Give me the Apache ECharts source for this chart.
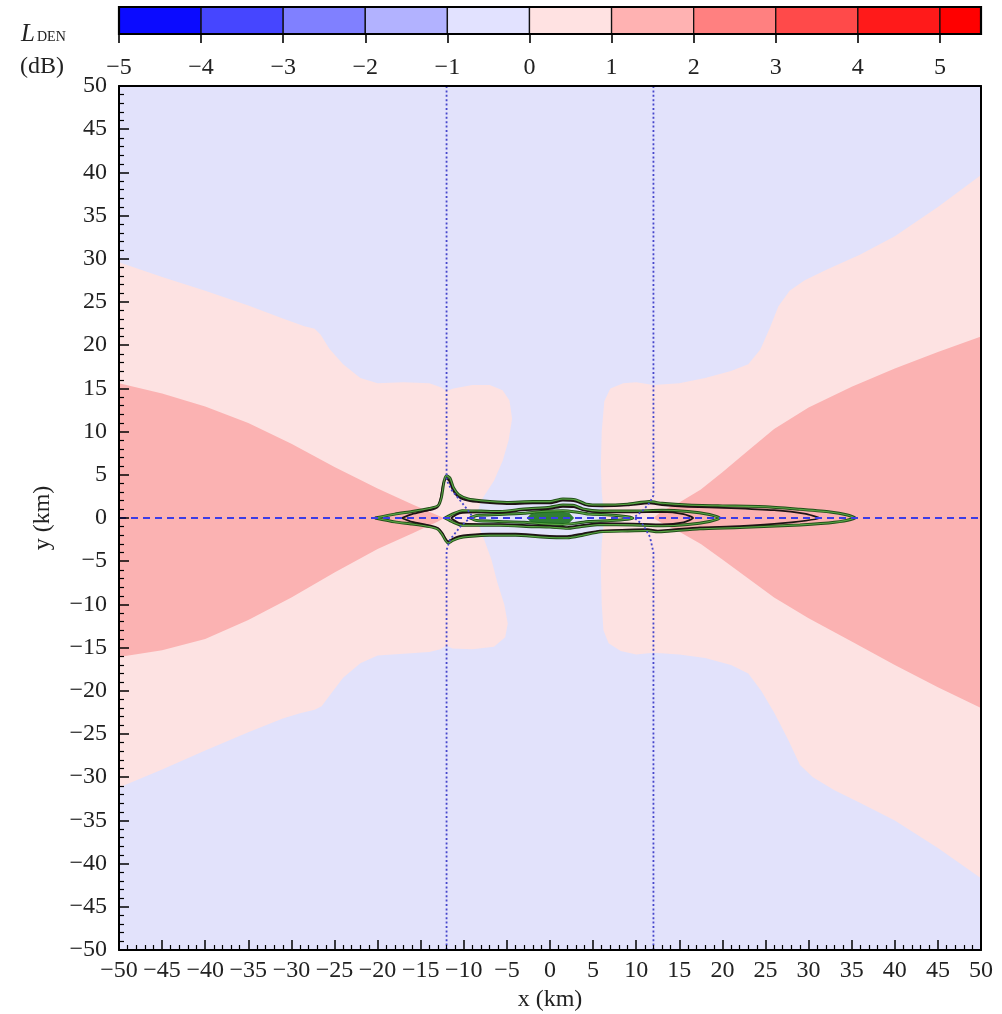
<!DOCTYPE html>
<html><head><meta charset="utf-8">
<script src="https://cdn.jsdelivr.net/npm/echarts@6/dist/echarts.min.js"></script>
<style>html,body{margin:0;padding:0;background:#fff}#c{width:1002px;height:1014px}</style>
</head><body><div id="c"></div>
<script>
// ---------- colour bar ----------
const cbLevels = [-5, -4, -3, -2, -1, 0, 1, 2, 3, 4, 5, 5.5];
const cbColors = ['#0b0bff', '#4646ff', '#8080ff', '#b2b2ff', '#e2e2ff', '#ffe2e2', '#ffb2b2', '#ff8080', '#ff4a4a', '#ff1a1a', '#ff0000'];
const cbTicks = [-5, -4, -3, -2, -1, 0, 1, 2, 3, 4, 5];

// ---------- axes ----------
const xRange = [-50, 50];
const yRange = [-50, 50];

// ---------- filled regions (x km, y km) ----------
const pinkLeft = [
  [-50, 29.6], [-45, 27.9], [-40, 26.3], [-35, 24.6], [-31, 23.1], [-28.5, 22.2], [-27.3, 21.9], [-26.6, 21.2],
  [-25.6, 19.6], [-24, 17.8], [-22, 16.2], [-20, 15.6], [-17, 15.7], [-14, 15.6], [-12.6, 15.1], [-12, 14.7],
  [-11.2, 15.0], [-9, 15.4], [-7, 15.4], [-5.5, 14.8], [-4.7, 13.6], [-4.4, 11.5], [-4.8, 9], [-5.5, 6.6],
  [-6.5, 4.3], [-8, 2.0], [-8.6, 0], [-7.6, -2.6], [-6.8, -4.8], [-6.1, -7.5], [-5.3, -10], [-4.9, -12.2],
  [-5.2, -13.8], [-6.5, -14.9], [-9, -15.2], [-11.3, -15.1], [-12, -14.8], [-12.7, -15.2], [-14, -15.5],
  [-17, -15.7], [-20, -15.9], [-22, -16.8], [-24, -18.5], [-25.3, -20.2], [-26.5, -21.8], [-27.3, -22.2],
  [-29, -22.6], [-31, -23.2], [-35, -24.8], [-40, -26.9], [-45, -29.1], [-50, -31.2]
];
const pinkRight = [
  [6.3, 0], [6.0, 3], [5.9, 6], [6.0, 10], [6.3, 13.5], [7.0, 15.0], [8.5, 15.6], [10, 15.7], [12, 15.4],
  [15, 15.6], [18, 16.2], [21, 17.0], [23, 17.8], [24.4, 19.5], [25.5, 22], [26.5, 24.5], [27.8, 26.3],
  [29.5, 27.5], [32, 28.7], [36, 30.5], [40, 32.6], [45, 36], [50, 39.7],
  [50, -41.7], [45, -38.2], [40, -35], [36, -33], [33, -31.5], [30.5, -30], [29, -28.6], [27.6, -25.6],
  [26, -22.5], [24.5, -20], [23, -18], [21, -17], [18, -16.2], [15, -15.8], [12, -15.6], [10, -15.8],
  [8.2, -15.4], [6.8, -14.5], [6.2, -13], [6.0, -10], [5.9, -6], [6.0, -3]
];
const redLeft = [
  [-50, 15.6], [-45, 14.4], [-40, 12.9], [-35, 11.0], [-30, 8.6], [-25, 5.9], [-20, 3.4], [-16, 1.6],
  [-13, 0.3], [-12.3, 0], [-13, -0.4], [-16, -1.8], [-20, -3.6], [-25, -6.3], [-30, -9.2], [-35, -11.8],
  [-40, -14.0], [-45, -15.3], [-50, -16.1]
];
const redRight = [
  [12, 0], [13, 0.8], [15, 1.8], [17.5, 3.3], [20, 5.3], [23, 7.8], [26, 10.3], [30, 12.8], [35, 15.2],
  [40, 17.3], [45, 19.2], [50, 21], [50, -22], [45, -19.6], [40, -17], [35, -14.3], [30, -11.6],
  [26, -9.2], [23, -7], [20, -4.8], [17.5, -3], [15, -1.6], [13, -0.6]
];
const centreBlob = [
  [-2.7, 0], [-2.2, 0.5], [-1, 0.7], [1, 0.75], [2.2, 0.65], [2.8, 0], [2.2, -0.6], [1, -0.7], [-1, -0.65], [-2.2, -0.5]
];

// ---------- contour lines (upper / lower branches, x ascending) ----------
const green1Up = [[-20.3,0],[-18,0.45],[-16,0.75],[-14,1.1],[-13,1.4],[-12.6,2.4],[-12.3,4.2],[-12,4.9],[-11.6,4.6],[-11.2,3.5],[-10.6,2.7],[-9.5,2.2],[-8,2.0],[-5,1.8],[-2,1.9],[0,1.9],[1.5,2.2],[3,2.1],[4.2,1.6],[6,1.5],[9,1.6],[11.5,1.9],[13,1.7],[16,1.5],[20,1.4],[25,1.3],[29,1.0],[32.5,0.7],[34.5,0.35],[35.4,0]];
const green1Lo = [[-20.3,0],[-18,-0.45],[-16,-0.7],[-14,-1.0],[-13,-1.3],[-12.5,-1.9],[-12.1,-2.6],[-11.8,-2.9],[-11.3,-2.6],[-10.5,-2.3],[-9.5,-2.15],[-7,-2.0],[-4,-2.0],[-1,-2.2],[2,-2.3],[3.8,-2.0],[5.8,-1.6],[9,-1.5],[11.3,-1.45],[12.5,-1.6],[14,-1.5],[17.4,-1.25],[22,-1.1],[29,-0.8],[33,-0.5],[35.4,0]];
const black1Up = [[-17.2,0],[-16,0.45],[-14,0.9],[-13.1,1.2],[-12.7,2.2],[-12.4,3.9],[-12.05,4.6],[-11.7,4.3],[-11.3,3.3],[-10.7,2.5],[-9.5,2.0],[-8,1.8],[-5,1.6],[-2,1.7],[0,1.7],[1.5,2.0],[3,1.9],[4.2,1.45],[6,1.35],[9,1.45],[11.5,1.7],[13,1.5],[16,1.3],[21,1.15],[26,0.9],[29.5,0.5],[31.3,0]];
const black1Lo = [[-17.2,0],[-16,-0.45],[-14,-0.85],[-13,-1.15],[-12.5,-1.7],[-12.1,-2.4],[-11.8,-2.7],[-11.3,-2.4],[-10.5,-2.1],[-9.5,-1.95],[-7,-1.8],[-4,-1.8],[-1,-2.0],[2,-2.1],[3.8,-1.8],[5.8,-1.45],[9,-1.35],[11.3,-1.3],[12.5,-1.45],[14,-1.35],[17.4,-1.1],[22,-0.95],[27,-0.6],[31.3,0]];
const green2Up = [[-12.2,0],[-11.2,0.5],[-10.2,0.85],[-8,0.8],[-5.8,0.75],[-3,1.05],[0,1.25],[1.5,1.5],[2.8,1.45],[3.8,1.05],[5.8,0.8],[9.6,0.8],[13,0.9],[16,0.75],[18.5,0.4],[19.7,0]];
const green2Lo = [[-12.2,0],[-11.2,-0.5],[-10.2,-0.85],[-5.8,-0.85],[-2,-1.0],[0,-1.05],[2,-1.2],[3.5,-1.0],[5.8,-0.75],[9.6,-0.8],[13,-0.9],[16,-0.75],[18.5,-0.4],[19.7,0]];
const black2Up = [[-11.5,0],[-10.5,0.55],[-8,0.65],[-5.8,0.6],[-3,0.9],[0,1.05],[1.5,1.3],[2.8,1.25],[3.8,0.9],[5.8,0.65],[9.6,0.65],[13,0.7],[15.5,0.45],[16.6,0]];
const black2Lo = [[-11.5,0],[-10.5,-0.6],[-8,-0.7],[-5.8,-0.7],[-2,-0.85],[0,-0.9],[2,-1.05],[3.5,-0.85],[5.8,-0.6],[9.6,-0.65],[13,-0.75],[15.5,-0.5],[16.6,0]];
const green3Up = [[-9.3,0],[-8.5,0.3],[-6,0.4],[-3,0.55],[-1,0.75],[1.5,0.85],[3,0.7],[4.5,0.45],[7,0.35],[9,0.15],[9.6,0]];
const green3Lo = [[-9.3,0],[-8.5,-0.3],[-6,-0.4],[-3,-0.5],[-1,-0.65],[1.5,-0.75],[3,-0.6],[4.5,-0.4],[7,-0.3],[9,-0.15],[9.6,0]];

// ---------- flight tracks ----------
const trackAxis = [[-50, 0], [50, 0]];
const trackLeftTop = [[-12, 50], [-12, 4.4], [-11.4, 3.2], [-10.4, 2.0], [-9.3, 0.6], [-8.9, 0]];
const trackLeftBot = [[-12, -50], [-12, -3.7], [-11.6, -2.5], [-10.4, -1.0], [-9.3, 0]];
const trackRightTop = [[12, 50], [12, 2.6], [11.5, 1.7], [10.8, 0.9], [9.8, 0.1]];
const trackRightBot = [[12, -50], [12, -4], [11.6, -2.2], [10.8, -0.8], [9.8, 0]];

// ---------- build ----------
const FONT = '"Liberation Serif", "DejaVu Serif", serif';
const minus = v => String(v).replace('-', '\u2212');
function loop(up, lo) { return up.concat(lo.slice(1, -1).reverse()); }

function polySeries(pts, color, z) {
  return {
    type: 'custom', xAxisIndex: 0, yAxisIndex: 0, z: z, clip: true, silent: true,
    data: [pts[0]],
    renderItem: function (params, api) {
      return { type: 'polygon', shape: { points: pts.map(p => api.coord(p)) }, style: { fill: color, stroke: null } };
    }
  };
}
function lineSeries(pts, color, width, type, z, smooth) {
  return {
    type: 'line', xAxisIndex: 0, yAxisIndex: 0, z: z, silent: true, symbol: 'none', smooth: smooth || false,
    data: pts, lineStyle: { color: color, width: width, type: type || 'solid' }
  };
}

const series = [
  polySeries(pinkLeft, '#fde2e2', 1),
  polySeries(pinkRight, '#fde2e2', 1),
  polySeries(redLeft, '#fbb2b2', 2),
  polySeries(redRight, '#fbb2b2', 2),
];
const gLoops = [loop(green1Up, green1Lo), loop(green2Up, green2Lo), loop(green3Up, green3Lo)];
const bLoops = [loop(black1Up, black1Lo), loop(black2Up, black2Lo)];
gLoops.forEach(l => series.push(lineSeries(l.concat([l[0]]), '#23501a', 3, 'solid', 4, 0.2)));
bLoops.forEach(l => series.push(lineSeries(l.concat([l[0]]), '#1e1414', 1.8, 'solid', 5, 0.2)));
gLoops.forEach(l => series.push(lineSeries(l.concat([l[0]]), '#5aa545', 1.1, 'solid', 6, 0.2)));
series.push(polySeries(centreBlob, 'rgba(30,115,30,0.9)', 6));
series.push(lineSeries(trackAxis, '#3c3ce6', 1.8, [7, 5], 8));
[trackLeftTop, trackLeftBot, trackRightTop, trackRightBot].forEach(t =>
  series.push(lineSeries(t, '#4646cc', 1.8, [2, 2.4], 8)));

// colour bar cells
const cbData = cbColors.map((c, i) => [cbLevels[i], cbLevels[i + 1], i]);
series.push({
  type: 'custom', xAxisIndex: 2, yAxisIndex: 2, z: 3, silent: true, data: cbData,
  renderItem: function (params, api) {
    const p0 = api.coord([api.value(0), 1]);
    const p1 = api.coord([api.value(1), 0]);
    return { type: 'rect', shape: { x: p0[0], y: p0[1], width: p1[0] - p0[0], height: p1[1] - p0[1] },
      style: { fill: cbColors[api.value(2)], stroke: '#111', lineWidth: 1.3 } };
  }
});
series.push({
  type: 'custom', xAxisIndex: 2, yAxisIndex: 2, z: 4, silent: true, data: [[cbLevels[0], cbLevels[cbLevels.length - 1]]],
  renderItem: function (params, api) {
    const p0 = api.coord([api.value(0), 1]);
    const p1 = api.coord([api.value(1), 0]);
    return { type: 'rect', shape: { x: p0[0], y: p0[1], width: p1[0] - p0[0], height: p1[1] - p0[1] },
      style: { fill: null, stroke: '#000', lineWidth: 2.2 } };
  }
});

const lab = { fontFamily: FONT, fontSize: 24, color: '#222' };
const axLine = { show: true, onZero: false, lineStyle: { color: '#000', width: 2 } };

const option = {
  animation: false,
  backgroundColor: '#fff',
  grid: [
    { left: 119, top: 86, right: 21, bottom: 64, show: true, backgroundColor: '#e2e2fb', borderWidth: 0,
      containLabel: false, outerBoundsMode: 'none' },
    { left: 119, top: 7, right: 21, height: 27, containLabel: false, outerBoundsMode: 'none' }
  ],
  xAxis: [
    { type: 'value', gridIndex: 0, min: xRange[0], max: xRange[1], interval: 5, z: 10,
      axisLine: axLine,
      axisTick: { inside: true, length: 10, lineStyle: { color: '#000', width: 1.5 } },
      minorTick: { show: true, splitNumber: 5, length: 5, lineStyle: { color: '#000', width: 1.2 } },
      splitLine: { show: false },
      axisLabel: Object.assign({ margin: 9, formatter: minus, hideOverlap: false }, lab),
      name: 'x (km)', nameLocation: 'middle', nameGap: 37, nameTextStyle: lab },
    { type: 'value', gridIndex: 0, position: 'top', min: xRange[0], max: xRange[1], z: 10,
      axisLine: axLine, axisTick: { show: false }, axisLabel: { show: false }, splitLine: { show: false } },
    { type: 'value', gridIndex: 1, min: cbLevels[0], max: cbLevels[cbLevels.length - 1], interval: 1, z: 10,
      axisLine: { show: false },
      axisTick: { show: true, customValues: cbTicks, length: 9, lineStyle: { color: '#000', width: 1.6 } },
      splitLine: { show: false },
      axisLabel: Object.assign({ margin: 22, customValues: cbTicks, formatter: minus }, lab) }
  ],
  yAxis: [
    { type: 'value', gridIndex: 0, min: yRange[0], max: yRange[1], interval: 5, z: 10,
      axisLine: axLine,
      axisTick: { inside: true, length: 10, lineStyle: { color: '#000', width: 1.5 } },
      minorTick: { show: true, splitNumber: 5, length: 5, lineStyle: { color: '#000', width: 1.2 } },
      splitLine: { show: false },
      axisLabel: Object.assign({ margin: 12, formatter: minus }, lab),
      name: 'y (km)', nameLocation: 'middle', nameGap: 64, nameRotate: 90, nameTextStyle: lab },
    { type: 'value', gridIndex: 0, position: 'right', min: yRange[0], max: yRange[1], z: 10,
      axisLine: axLine, axisTick: { show: false }, axisLabel: { show: false }, splitLine: { show: false } },
    { type: 'value', gridIndex: 1, min: 0, max: 1, show: false }
  ],
  graphic: [
    { type: 'text', left: 21, top: 22, style: { text: 'L', font: 'italic 25px ' + FONT, fill: '#222' } },
    { type: 'text', left: 37, top: 30, style: { text: 'DEN', font: '14px ' + FONT, fill: '#222' } },
    { type: 'text', left: 20, top: 55, style: { text: '(dB)', font: '24px ' + FONT, fill: '#222' } }
  ],
  series: series
};

const chart = echarts.init(document.getElementById('c'), null, { renderer: 'canvas' });
chart.setOption(option);
</script>
</body></html>
